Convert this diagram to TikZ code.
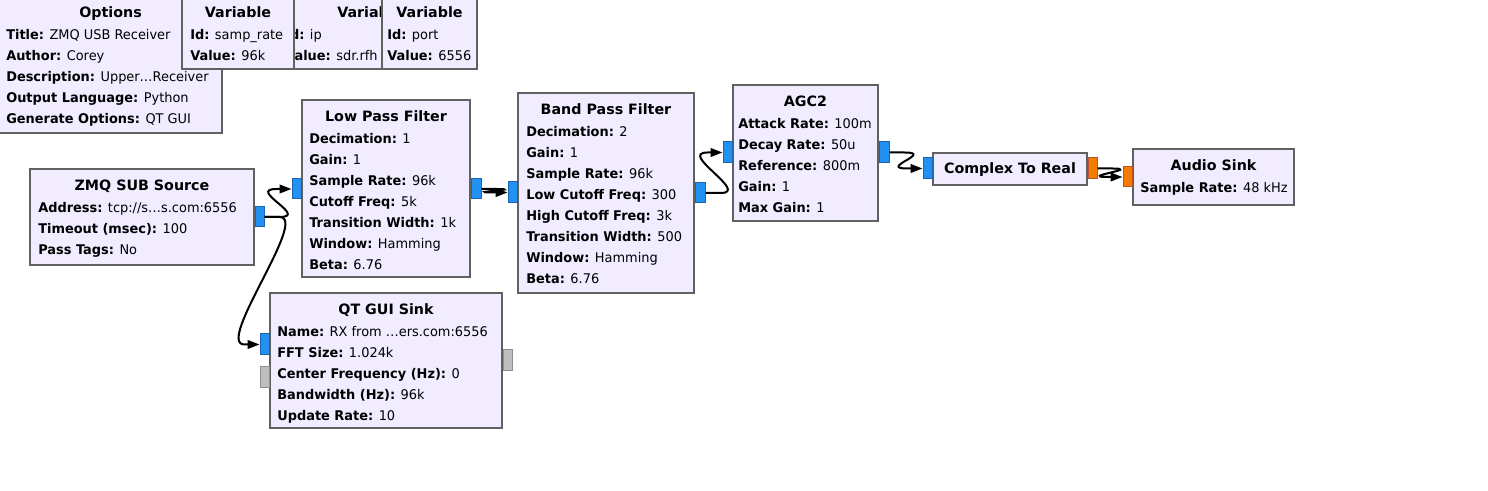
\documentclass[tikz,border=0pt]{standalone}
\usepackage{fontspec}
\setmainfont{DejaVu Sans}
\newfontfamily\prmfont[FakeStretch=0.97]{DejaVu Sans}
\usetikzlibrary{fit,calc,arrows.meta}
\definecolor{blkfill}{HTML}{F1ECFF}
\definecolor{blkline}{HTML}{616161}
\definecolor{cplx}{HTML}{2291F2}
\definecolor{cplxline}{HTML}{1A64B0}
\definecolor{flt}{HTML}{F57C00}
\definecolor{fltline}{HTML}{B5552C}
\definecolor{msg}{HTML}{BEBEBE}
\definecolor{msgline}{HTML}{8E8E8E}
\newcommand\blktext[4]{%
  \node[ttl] at ($(#1.north)+(0,23)$) {#2};
  \foreach \txt [count=\i] in {#4}
    \node[prm] at ($(#1.north west)+(#3,23.5+21*\i)$) {\txt};
}
\newcommand\blk[6]{%
  \node[blk, fit={#2 #3}] (#1) {};
  \blktext{#1}{#4}{#5}{#6}
}
\newcommand\wire[2]{%
  \draw[wire] (#1.east) -- ($(#1.east)+(15,0)$)
    .. controls ($(#1.east)+(45,0)$) and ($(#2.west)+(-45,0)$) ..
    ($(#2.west)+(-15,0)$) -- (#2.west);
}
\begin{document}
\begin{tikzpicture}[x=0.75pt,y=-0.75pt,
  blk/.style={draw=blkline, fill=blkfill, line width=1.5pt, inner sep=0pt, rectangle},
  ttl/.style={anchor=base, inner sep=0pt, font=\fontsize{10.7}{12}\selectfont\bfseries},
  prm/.style={anchor=base west, inner sep=0pt, font=\prmfont\fontsize{10}{12}\selectfont},
  cport/.style={draw=cplxline, fill=cplx, line width=0.75pt, inner sep=0pt, rectangle},
  fport/.style={draw=fltline, fill=flt, line width=0.75pt, inner sep=0pt, rectangle},
  mport/.style={draw=msgline, fill=msg, line width=0.75pt, inner sep=0pt, rectangle},
  wire/.style={line width=1.5pt, -{Triangle[length=9pt,width=6.5pt]}}
]
\useasboundingbox (0,0) rectangle (1488,491);
\fill[white] (0,0) rectangle (1488,491);

% variables and options
\blk{opt}{(-1,-4)}{(222,133)}{Options}{8}{{\textbf{Title:} ZMQ USB Receiver},{\textbf{Author:} Corey},{\textbf{Description:} Upper…Receiver},{\textbf{Output Language:} Python},{\textbf{Generate Options:} QT GUI}}
\node[blk, fit={(278,-4)(464,69)}] (vip) {};
\begin{scope}
  \clip (295,-4) rectangle (382,69);
  \node[ttl, anchor=base west] at ($(vip.north west)+(60,23)$) {Varial};
  \foreach \txt [count=\i] in {{\textbf{Id:} ip},{\textbf{Value:} sdr.rfh}}
    \node[prm] at ($(vip.north west)+(8,23.5+21*\i)$) {\txt};
\end{scope}
\blk{vsr}{(182,-4)}{(294,69)}{Variable}{9}{{\textbf{Id:} samp\_rate},{\textbf{Value:} 96k}}
\blk{vport}{(382,-4)}{(477,69)}{Variable}{6}{{\textbf{Id:} port},{\textbf{Value:} 6556}}

% blocks
\blk{zmq}{(30,169)}{(254,265)}{ZMQ SUB Source}{9}{{\textbf{Address:} tcp://s…s.com:6556},{\textbf{Timeout (msec):} 100},{\textbf{Pass Tags:} No}}
\blk{lpf}{(302,100)}{(470,277)}{Low Pass Filter}{8}{{\textbf{Decimation:} 1},{\textbf{Gain:} 1},{\textbf{Sample Rate:} 96k},{\textbf{Cutoff Freq:} 5k},{\textbf{Transition Width:} 1k},{\textbf{Window:} Hamming},{\textbf{Beta:} 6.76}}
\blk{bpf}{(518,93)}{(694,293)}{Band Pass Filter}{9}{{\textbf{Decimation:} 2},{\textbf{Gain:} 1},{\textbf{Sample Rate:} 96k},{\textbf{Low Cutoff Freq:} 300},{\textbf{High Cutoff Freq:} 3k},{\textbf{Transition Width:} 500},{\textbf{Window:} Hamming},{\textbf{Beta:} 6.76}}
\blk{agc}{(733,85)}{(878,221)}{AGC2}{6}{{\textbf{Attack Rate:} 100m},{\textbf{Decay Rate:} 50u},{\textbf{Reference:} 800m},{\textbf{Gain:} 1},{\textbf{Max Gain:} 1}}
\node[blk, fit={(933,153)(1087,185)}] (c2r) {};
\node[ttl] at ($(c2r.north)+(0,22)$) {Complex To Real};
\blk{aud}{(1133,149)}{(1294,205)}{Audio Sink}{8}{{\textbf{Sample Rate:} 48 kHz}}
\blk{qt}{(270,293)}{(502,428)}{QT GUI Sink}{8}{{\textbf{Name:} RX from …ers.com:6556},{\textbf{FFT Size:} 1.024k},{\textbf{Center Frequency (Hz):} 0},{\textbf{Bandwidth (Hz):} 96k},{\textbf{Update Rate:} 10}}

% ports
\node[cport, fit={(255,207)(264,227)}] (zmqo) {};
\node[cport, fit={(292,179)(301,199)}] (lpfi) {};
\node[cport, fit={(471,179)(481,199)}] (lpfo) {};
\node[cport, fit={(508,182)(517,203)}] (bpfi) {};
\node[cport, fit={(695,183)(705,203)}] (bpfo) {};
\node[cport, fit={(723,142)(732,163)}] (agci) {};
\node[cport, fit={(879,142)(889,163)}] (agco) {};
\node[cport, fit={(923,158)(932,179)}] (c2ri) {};
\node[fport, fit={(1088,158)(1097,179)}] (c2ro) {};
\node[fport, fit={(1123,167)(1132,187)}] (audi) {};
\node[cport, fit={(260,334)(269,355)}] (qti) {};
\node[mport, fit={(260,367)(269,388)}] (qtm) {};
\node[mport, fit={(503,350)(512,371)}] (qtmo) {};

% connections
\wire{zmqo}{lpfi}
\wire{zmqo}{qti}
\wire{lpfo}{bpfi}
\wire{bpfo}{agci}
\wire{agco}{c2ri}
\wire{c2ro}{audi}
\end{tikzpicture}
\end{document}
